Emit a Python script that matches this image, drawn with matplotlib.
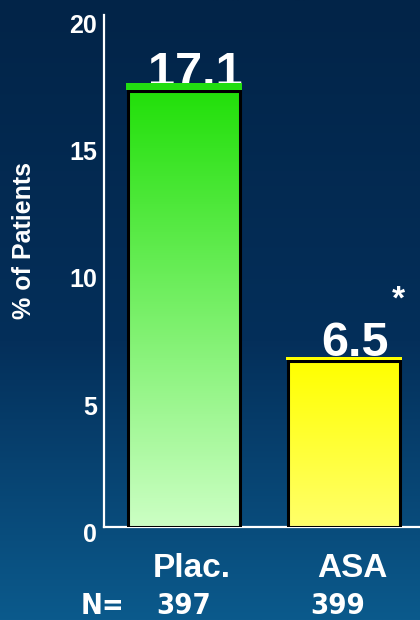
import numpy as np
import matplotlib
matplotlib.use("Agg")
import matplotlib.pyplot as plt
import matplotlib.font_manager as fm
import matplotlib.transforms as mtransforms
from matplotlib.colors import LinearSegmentedColormap

# data
groups = ["Plac.", "ASA"]
values = [17.1, 6.5]
n_patients = ["397", "399"]
yticks = [0, 5, 10, 15, 20]

plt.rcParams["font.family"] = ["Liberation Sans", "DejaVu Sans"]
plt.rcParams["font.weight"] = "bold"

# condensed face for the N row, if one is installed
cond = None
for f in fm.fontManager.ttflist:
    if ("Narrow" in f.name or f.stretch in ("condensed", "semi-condensed", 500, 400)
            and "Condensed" in f.fname) and f.weight in ("bold", 700):
        cond = f
        break
if cond is not None:
    n_font = fm.FontProperties(fname=cond.fname, size=21)
else:
    n_font = fm.FontProperties(family="Liberation Sans", weight="bold", size=19)

fig = plt.figure(figsize=(4.2, 6.2), dpi=100)

# background gradient
bg = fig.add_axes([0, 0, 1, 1], zorder=-5)
bg_cmap = LinearSegmentedColormap.from_list(
    "bg", [(0, "#022448"), (0.55, "#042f5a"), (1, "#0b5a8c")])
bg.imshow(np.linspace(0, 1, 256).reshape(-1, 1), aspect="auto", cmap=bg_cmap,
          extent=[0, 1, 0, 1], origin="upper")
bg.axis("off")

ax = fig.add_axes([104 / 420, 93 / 620, 316 / 420, 512 / 620])
ax.patch.set_alpha(0)

x = np.arange(len(groups))
width = 0.7
fills = [("#22e00a", "#ccffc4"), ("#ffff00", "#ffff6a")]
caps = [("#22dd11", 0.28), ("#ffff00", 0.12)]

bars = ax.bar(x, values, width=width, facecolor="none", edgecolor="black",
              linewidth=2.2, zorder=3)
for b, (top, bottom) in zip(bars, fills):
    cm = LinearSegmentedColormap.from_list("g", [bottom, top])
    im = ax.imshow(np.linspace(0, 1, 256).reshape(-1, 1), aspect="auto", cmap=cm,
                   origin="lower",
                   extent=[b.get_x(), b.get_x() + b.get_width(), 0, b.get_height()],
                   zorder=2)
    im.set_clip_path(b)

# top strips
for xi, v, (c, h) in zip(x, values, caps):
    ax.bar(xi, h, bottom=v + 0.05, width=width + 0.02, color=c, zorder=5)

for xi, v in zip(x, values):
    ax.text(xi + 0.07, v + 0.2, f"{v}", ha="center", va="baseline",
            color="white", fontsize=35, fontweight="bold", zorder=4)
ax.text(1.34, 8.9, "*", ha="center", va="center", color="white",
        fontsize=24, fontweight="bold")

ax.set_xlim(-0.5, 1.475)
ax.set_ylim(0, 20.1)
ax.set_yticks(yticks)
ax.set_xticks(x)
ax.set_xticklabels(groups)
for s in ["top", "right"]:
    ax.spines[s].set_visible(False)
for s in ["left", "bottom"]:
    ax.spines[s].set_color("white")
    ax.spines[s].set_linewidth(1.6)
ax.tick_params(axis="y", length=0, pad=5, labelsize=18, labelcolor="white")
ax.tick_params(axis="x", length=0, pad=19, labelsize=24, labelcolor="white")
for lab in ax.get_yticklabels():
    lab.set_fontweight("bold")
    lab.set_transform(lab.get_transform() +
                      mtransforms.ScaledTranslation(0, -4 / 72, fig.dpi_scale_trans))
for lab in ax.get_xticklabels():
    lab.set_fontweight("bold")
    lab.set_transform(lab.get_transform() +
                      mtransforms.ScaledTranslation(8 / 100, 0, fig.dpi_scale_trans))

ax.set_ylabel("% of Patients", color="white", fontsize=18, fontweight="bold")
ax.yaxis.set_label_coords(-0.215, 0.56)

# N row
trans = mtransforms.blended_transform_factory(ax.transData, fig.transFigure)
fig.text(124 / 420, 6 / 620, "N=", ha="right", va="baseline", color="white",
         fontproperties=n_font)
for xi, n, dx in zip(x, n_patients, [0.0, -0.04]):
    ax.text(xi + dx, 6 / 620, n, transform=trans, ha="center",
            va="baseline", color="white", fontproperties=n_font)

fig.savefig("out.png", dpi=100)
